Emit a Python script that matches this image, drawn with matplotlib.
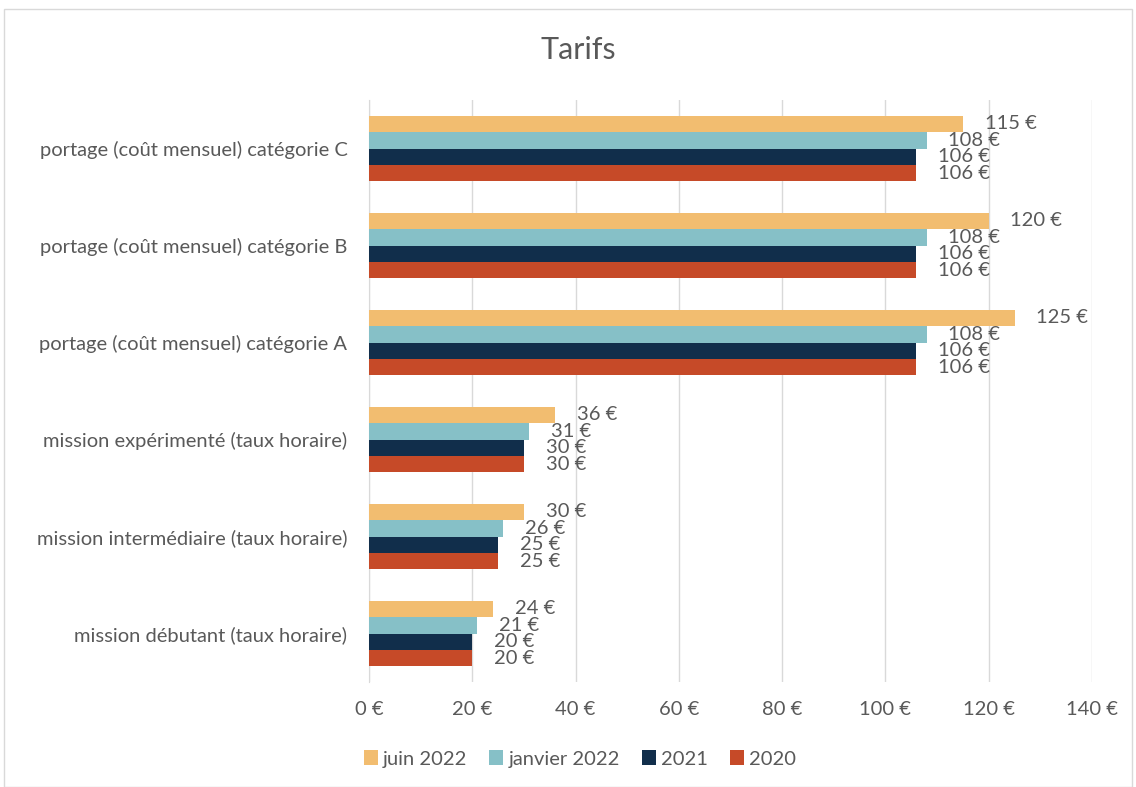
import matplotlib
matplotlib.use("Agg")
import matplotlib.pyplot as plt
from matplotlib.patches import Patch
import numpy as np

categories = [
    "mission débutant (taux horaire)",
    "mission intermédiaire (taux horaire)",
    "mission expérimenté (taux horaire)",
    "portage (coût mensuel) catégorie A",
    "portage (coût mensuel) catégorie B",
    "portage (coût mensuel) catégorie C",
]
series_names = ["juin 2022", "janvier 2022", "2021", "2020"]
juin_2022 = [24, 30, 36, 125, 120, 115]
janvier_2022 = [21, 26, 31, 108, 108, 108]
y2021 = [20, 25, 30, 106, 106, 106]
y2020 = [20, 25, 30, 106, 106, 106]
colors = ["#F2BD70", "#86C0C7", "#112E4B", "#C64A28"]
xticks = [0, 20, 40, 60, 80, 100, 120, 140]

plt.rcParams['font.family'] = ['Lato', 'DejaVu Sans']
txt = "#595959"
fs = 14.5

fig = plt.figure(figsize=(11.36, 7.87), dpi=100)
ax = fig.add_axes([369/1136, 1-682/787, (1092-369)/1136, 582/787])

data = [juin_2022, janvier_2022, y2021, y2020]
bh = 0.17
y = np.arange(len(categories))
for i, (vals, c) in enumerate(zip(data, colors)):
    offs = (1.5 - i) * bh
    bars = ax.barh(y + offs, vals, height=bh, color=c, zorder=3)
    for b, v in zip(bars, vals):
        ax.text(v + 4.2, b.get_y() + b.get_height()/2, f"{v} €", va="center", ha="left",
                fontsize=fs, color=txt, zorder=4)

ax.set_xlim(0, 140)
ax.set_ylim(-0.5, len(categories) - 0.5)
ax.set_xticks(xticks)
ax.set_xticklabels([f"{t} €" for t in xticks], fontsize=fs, color=txt)
ax.set_yticks(y)
ax.set_yticklabels(categories, fontsize=fs, color=txt)
ax.tick_params(axis='both', length=0)
ax.tick_params(axis='x', pad=14)
ax.tick_params(axis='y', pad=15.5)
ax.grid(axis='x', color="#D9D9D9", linewidth=1, zorder=0)
for s in ["top", "right", "bottom"]:
    ax.spines[s].set_visible(False)
ax.spines["left"].set_color("#D9D9D9")
ax.spines["left"].set_zorder(2)

fig.text(578/1136, 1-50/787, "Tarifs", ha="center", va="center", fontsize=22, color=txt)

handles = [Patch(facecolor=c, label=s) for c, s in zip(colors, series_names)]
fig.legend(handles=handles, loc="center", bbox_to_anchor=(580/1136, 1-759/787), ncol=4,
           frameon=False, fontsize=fs, labelcolor=txt, handlelength=0.7, handleheight=0.7,
           handletextpad=0.25, columnspacing=1.1)

border = plt.Rectangle((4/1136, 0), 1-8/1136, 1-9/787, transform=fig.transFigure,
                       fill=False, edgecolor="#D9D9D9", linewidth=1)
fig.patches.append(border)

fig.savefig("out.png", dpi=100)
